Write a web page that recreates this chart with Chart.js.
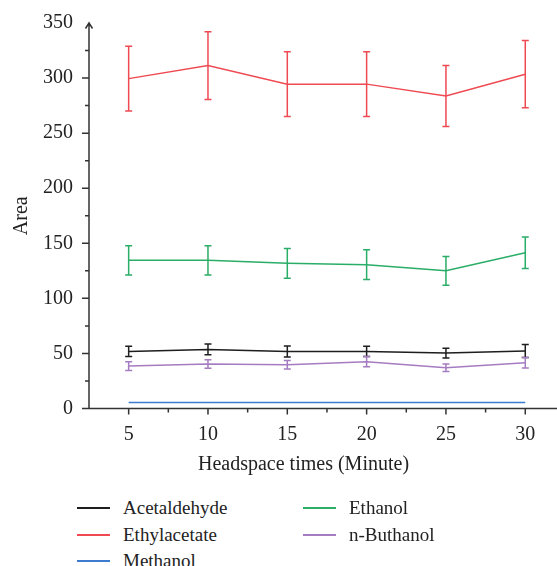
<!DOCTYPE html>
<html>
<head>
<meta charset="utf-8">
<script src="https://cdn.jsdelivr.net/npm/chart.js@4.4.1/dist/chart.umd.min.js"></script>
<style>
  body { margin: 0; background: #fff; }
  #wrap { position: relative; width: 557px; height: 566px; overflow: hidden;
          font-family: "Liberation Serif", "DejaVu Serif", serif; color: #222; }
  #c { position: absolute; left: 0; top: 0; }
  #xtitle { position: absolute; left: 198px; width: 210px; top: 451px; text-align: center;
            font-size: 20px; white-space: nowrap; line-height: 24px; }
  .leg { position: absolute; font-size: 19px; line-height: 24px; white-space: nowrap; }
  .leg span.sw { position: absolute; top: 11px; width: 33px; height: 2px; }
</style>
</head>
<body>
<div id="wrap">
  <canvas id="c" width="557" height="480"></canvas>
  <div id="xtitle">Headspace times (Minute)</div>
  <div id="legend"></div>
</div>
<script>
// headspace times (minutes)
const times = [5, 10, 15, 20, 25, 30];

// mean peak area per compound
const acetaldehyde = [51.8, 53.6, 51.8, 51.8, 50.3, 52.2];
const ethylacetate = [299.5, 311.3, 294.5, 294.5, 283.8, 303.5];
const methanol     = [5.5, 5.5, 5.5, 5.5, 5.5, 5.5];
const ethanol      = [134.5, 134.5, 131.8, 130.6, 125.0, 141.5];
const nButhanol    = [38.5, 40.4, 39.7, 42.5, 37.0, 41.5];

// error bar half-lengths
const acetaldehydeErr = [4.7, 4.9, 5.0, 4.7, 4.5, 5.8];
const ethylacetateErr = [29.5, 30.7, 29.5, 29.5, 27.7, 30.5];
const methanolErr     = [0, 0, 0, 0, 0, 0];
const ethanolErr      = [13.3, 13.2, 13.5, 13.5, 13.0, 14.3];
const nButhanolErr    = [3.9, 3.9, 3.9, 4.7, 3.3, 4.7];

const yTicks = [0, 50, 100, 150, 200, 250, 300, 350];
const xTicks = [5, 10, 15, 20, 25, 30];

const series = [
  { label: 'Acetaldehyde', data: acetaldehyde, err: acetaldehydeErr, color: '#1e1e1e' },
  { label: 'Ethylacetate', data: ethylacetate, err: ethylacetateErr, color: '#ef4a52' },
  { label: 'Methanol',     data: methanol,     err: methanolErr,     color: '#3d7bd0' },
  { label: 'Ethanol',      data: ethanol,      err: ethanolErr,      color: '#2aad67' },
  { label: 'n-Buthanol',   data: nButhanol,    err: nButhanolErr,    color: '#a57cc1' }
];

const font = { family: '"Liberation Serif", "DejaVu Serif", serif', size: 20 };
const round = v => Math.round(v * 100) / 100;

// error bars + hand drawn axes with minor ticks and arrow
const axesAndErrors = {
  id: 'axesAndErrors',
  afterDatasetsDraw(chart) {
    const ctx = chart.ctx;
    const xs = chart.scales.x, ys = chart.scales.y;

    chart.data.datasets.forEach((ds, i) => {
      const errs = series[i].err;
      ctx.save();
      ctx.strokeStyle = ds.borderColor;
      ctx.lineWidth = 1.5;
      ds.data.forEach((pt, j) => {
        const e = errs[j];
        if (!e) return;
        const px = xs.getPixelForValue(pt.x);
        const top = ys.getPixelForValue(pt.y + e);
        const bot = ys.getPixelForValue(pt.y - e);
        ctx.beginPath();
        ctx.moveTo(px, top); ctx.lineTo(px, bot);
        ctx.moveTo(px - 3.5, top); ctx.lineTo(px + 3.5, top);
        ctx.moveTo(px - 3.5, bot); ctx.lineTo(px + 3.5, bot);
        ctx.stroke();
      });
      ctx.restore();
    });

    const x0 = xs.getPixelForValue(xs.min);
    const y0 = ys.getPixelForValue(0);
    const yTop = ys.getPixelForValue(350);

    ctx.save();
    ctx.strokeStyle = '#333';
    ctx.lineWidth = 1.5;
    ctx.beginPath();
    // y axis
    ctx.moveTo(x0, y0); ctx.lineTo(x0, yTop);
    ctx.moveTo(x0 - 3.5, yTop + 5.5); ctx.lineTo(x0, yTop); ctx.lineTo(x0 + 3.5, yTop + 5.5);
    // x axis
    ctx.moveTo(x0 - 7, y0); ctx.lineTo(chart.width, y0);
    for (let v = 0; v < 350; v += 25) {
      const py = ys.getPixelForValue(v);
      const len = v % 50 === 0 ? 7 : 4;
      ctx.moveTo(x0 - len, py); ctx.lineTo(x0, py);
    }
    for (let v = 5; v <= 30; v += 2.5) {
      const px = xs.getPixelForValue(v);
      const len = v % 5 === 0 ? 6 : 4;
      ctx.moveTo(px, y0); ctx.lineTo(px, y0 + len);
    }
    ctx.stroke();
    ctx.restore();
  }
};

new Chart(document.getElementById('c'), {
  type: 'line',
  data: {
    datasets: series.map(s => ({
      label: s.label,
      data: times.map((t, i) => ({ x: t, y: s.data[i] })),
      borderColor: s.color,
      backgroundColor: s.color,
      borderWidth: 1.5,
      pointRadius: 0,
      tension: 0,
      fill: false
    }))
  },
  options: {
    responsive: false,
    animation: false,
    layout: { padding: { top: 23, right: 0, bottom: 0, left: 0 } },
    plugins: { legend: { display: false }, tooltip: { enabled: false } },
    scales: {
      x: {
        type: 'linear',
        min: 2.5,
        max: 32,
        grid: { display: false, drawTicks: false },
        border: { display: false },
        ticks: {
          stepSize: 2.5,
          includeBounds: false,
          autoSkip: false,
          maxRotation: 0,
          padding: 14,
          color: '#222',
          font: font,
          callback: v => xTicks.includes(round(v)) ? String(round(v)) : ''
        },
        afterFit: s => { s.height = 71.5; s.paddingLeft = 0; s.paddingRight = 0; }
      },
      y: {
        min: 0,
        max: 350,
        grid: { display: false, drawTicks: false },
        border: { display: false },
        ticks: {
          stepSize: 25,
          autoSkip: false,
          padding: 16,
          color: '#222',
          font: font,
          callback: v => yTicks.includes(round(v)) ? String(round(v)) : ''
        },
        title: { display: true, text: 'Area', color: '#222', font: font, padding: { top: 10, bottom: 0 } },
        afterFit: s => { s.width = 89; s.paddingTop = 0; s.paddingBottom = 0; }
      }
    }
  },
  plugins: [axesAndErrors]
});

// legend in two columns: left column first three, right column the rest
const legend = document.getElementById('legend');
const legPos = [
  { left: 77, top: 496 }, { left: 77, top: 523 }, { left: 77, top: 549 },
  { left: 303, top: 496 }, { left: 303, top: 523 }
];
const legOrder = ['Acetaldehyde', 'Ethylacetate', 'Methanol', 'Ethanol', 'n-Buthanol'];
legOrder.forEach((name, i) => {
  const s = series.find(d => d.label === name);
  const el = document.createElement('div');
  el.className = 'leg';
  el.style.left = legPos[i].left + 'px';
  el.style.top = legPos[i].top + 'px';
  el.innerHTML = '<span class="sw" style="left:0;background:' + s.color + '"></span>' +
                 '<span style="margin-left:46px">' + s.label + '</span>';
  legend.appendChild(el);
});
</script>
</body>
</html>
